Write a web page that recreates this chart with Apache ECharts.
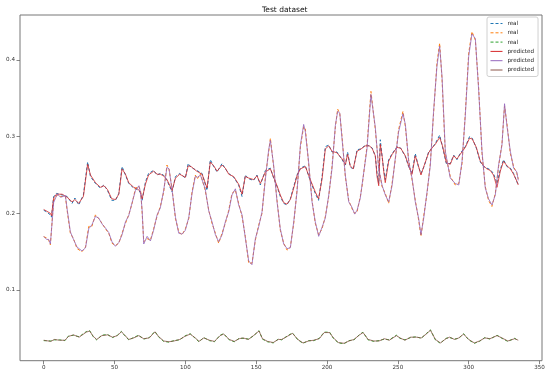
<!DOCTYPE html>
<html>
<head>
<meta charset="utf-8">
<script src="https://cdn.jsdelivr.net/npm/echarts@6/dist/echarts.min.js"></script>
<style>
  html, body { margin: 0; padding: 0; background: #fff; }
  #chart { width: 550px; height: 378px; }
</style>
</head>
<body>
<div id="chart"></div>
<script>
// tick labels
var xTicks = [0, 50, 100, 150, 200, 250, 300, 350];
var yTicks = [0.1, 0.2, 0.3, 0.4];

// upper series (real / predicted)
var xA = [0,2,4.7,5.5,7,9,13,16.5,20,22, 24.7,28,31,33,36.5,40,42.5,45,48,50.7,
  53,55.3,57.7,60,63.5,66,68,69.5,71.8,74, 77.6,80,82.3,84.5,87,90.6,93,96,100,102,
  104,108,111.8,115.3,117.6,120,122.4,125.9,128.2,130.6, 134.1,137.6,140,142.3,144.7,148.2,150.5,152.9,156.5,160,
  162.3,164.7,167,169.4,171.7,174.1,176.5,178.8,181.2,184.7, 188.2,191.7,194,196.5,198.8,201.2,203.5,207,210.6,213,
  214.5,216.4,218.5,221.2,224,227,230,232,234.1,235.3, 236.5,237.6,239,240,241.1,243.5,246,249.4,252,255.3,
  257.6,260,262.3,264.5,266.3,268.5,271.7,274,276.4,279.5, 281.5,284.2,287,289.4,291.7,294,297.6,300.6,302.5,305.4,
  308.2,310.5,312.8,315.2,317.5,320,322.3,324.6,327,329.4, 331.7,334,335];
var realA = [0.204,0.202,0.198,0.195,0.222,0.226,0.224,0.222,0.213,0.220, 0.211,0.224,0.267,0.248,0.239,0.233,0.237,0.230,0.217,0.217,
  0.226,0.261,0.250,0.239,0.233,0.231,0.228,0.217,0.241,0.252, 0.256,0.250,0.252,0.250,0.243,0.228,0.248,0.252,0.246,0.265,
  0.260,0.256,0.252,0.230,0.270,0.261,0.254,0.265,0.258,0.252, 0.247,0.237,0.222,0.250,0.245,0.243,0.250,0.237,0.256,0.259,
  0.246,0.235,0.222,0.213,0.211,0.219,0.235,0.250,0.259,0.262, 0.242,0.226,0.217,0.248,0.287,0.289,0.280,0.280,0.270,0.263,
  0.280,0.261,0.257,0.283,0.284,0.289,0.288,0.285,0.274,0.252, 0.239,0.296,0.272,0.257,0.244,0.270,0.278,0.287,0.285,0.274,
  0.261,0.252,0.278,0.261,0.252,0.261,0.280,0.285,0.291,0.302, 0.287,0.265,0.265,0.276,0.270,0.278,0.287,0.300,0.298,0.285,
  0.267,0.261,0.259,0.257,0.252,0.239,0.257,0.270,0.261,0.259, 0.252,0.241,0.238];
var predA = [0.205,0.203,0.200,0.197,0.220,0.225,0.225,0.221,0.215,0.218, 0.213,0.222,0.264,0.250,0.240,0.234,0.236,0.231,0.219,0.218,
  0.225,0.258,0.251,0.240,0.234,0.232,0.229,0.219,0.238,0.250, 0.255,0.251,0.251,0.249,0.244,0.230,0.246,0.251,0.247,0.262,
  0.261,0.255,0.251,0.233,0.267,0.262,0.255,0.263,0.259,0.251, 0.248,0.238,0.225,0.248,0.246,0.244,0.249,0.239,0.254,0.258,
  0.247,0.236,0.224,0.214,0.212,0.218,0.233,0.249,0.258,0.261, 0.244,0.228,0.219,0.245,0.284,0.288,0.281,0.279,0.271,0.264,
  0.277,0.262,0.258,0.281,0.284,0.288,0.288,0.284,0.275,0.248, 0.236,0.290,0.273,0.255,0.240,0.268,0.277,0.286,0.285,0.275,
  0.262,0.251,0.275,0.262,0.250,0.262,0.279,0.285,0.290,0.299, 0.288,0.266,0.264,0.275,0.271,0.277,0.286,0.298,0.297,0.286,
  0.268,0.262,0.258,0.256,0.250,0.234,0.255,0.268,0.262,0.258, 0.251,0.242,0.237];

// middle series (real / predicted)
var xB = [0,2,3.5,4.7,7,9.5,12,15.3,16.5,18.8, 21,23.5,27,29.5,31.8,34,36.5,38.8,41.2,43.5,
  45.9,48.2,50.6,53,55.3,57.7,60,62.4,64.8,67.2, 68.5,69.5,70.6,73,75.3,77.6,80,82.3,84.7,87,
  88.5,90.6,93,95.3,97.7,100,102.4,104.7,107,108.5, 110.6,114,116.5,118.8,121.2,123.5,125.9,128.2,130.6,132.9,
  135.3,137.6,140,142.3,144.7,147,149.4,151.8,154.1,156.5, 158.8,160,162.3,164.7,167,169.4,171.8,174.1,176.5,178.8,
  181.2,183.5,184.7,187,189.4,191.7,194.1,196.5,198.8,201.2, 203.5,205.9,207.5,209,210.6,212.9,215.3,217.6,219.5,221.2,
  223.5,224.7,228.2,231,234.1,236.4,238.8,241.1,243.5,245.9, 248.2,250.5,253.6,255.3,257.6,260,262.3,264.7,266.3,268.2,
  270.6,272.9,275.2,277.6,279.5,281.2,283.5,287,290.5,293, 295.3,297.6,300,302.3,304.7,307,309.4,311.7,314,316.4,
  318.8,321.1,323.5,325.3,327,329.4,331.7,334,335];
var realB = [0.1695,0.168,0.165,0.159,0.217,0.224,0.222,0.222,0.204,0.174, 0.167,0.154,0.150,0.156,0.183,0.183,0.198,0.193,0.187,0.180,
  0.174,0.161,0.158,0.161,0.174,0.187,0.198,0.213,0.233,0.235, 0.228,0.200,0.163,0.167,0.165,0.180,0.196,0.209,0.228,0.263,
  0.257,0.232,0.193,0.176,0.172,0.180,0.193,0.228,0.250,0.245, 0.252,0.230,0.204,0.187,0.174,0.161,0.174,0.187,0.204,0.226,
  0.230,0.213,0.196,0.170,0.135,0.135,0.165,0.185,0.200,0.248, 0.280,0.298,0.261,0.217,0.178,0.161,0.152,0.156,0.187,0.230,
  0.287,0.313,0.310,0.265,0.217,0.187,0.172,0.180,0.196,0.222, 0.261,0.313,0.336,0.330,0.300,0.248,0.217,0.206,0.200,0.202,
  0.222,0.235,0.287,0.359,0.309,0.261,0.235,0.226,0.213,0.239, 0.270,0.309,0.333,0.313,0.270,0.244,0.217,0.191,0.170,0.196,
  0.226,0.265,0.330,0.396,0.422,0.374,0.278,0.248,0.237,0.239, 0.265,0.330,0.409,0.437,0.426,0.365,0.278,0.235,0.217,0.209,
  0.226,0.261,0.291,0.340,0.317,0.278,0.261,0.252,0.245];
var predB = [0.170,0.166,0.166,0.160,0.214,0.225,0.221,0.223,0.206,0.176, 0.166,0.156,0.151,0.155,0.180,0.185,0.196,0.194,0.186,0.181,
  0.175,0.163,0.157,0.162,0.172,0.189,0.197,0.214,0.230,0.236, 0.226,0.203,0.160,0.170,0.164,0.178,0.198,0.207,0.230,0.260,
  0.258,0.230,0.195,0.174,0.173,0.178,0.195,0.226,0.248,0.247, 0.250,0.232,0.203,0.189,0.172,0.163,0.172,0.189,0.202,0.224,
  0.232,0.211,0.198,0.168,0.138,0.133,0.167,0.183,0.202,0.245, 0.283,0.295,0.263,0.215,0.180,0.160,0.154,0.155,0.189,0.228,
  0.289,0.316,0.306,0.267,0.215,0.189,0.170,0.182,0.194,0.224, 0.258,0.315,0.333,0.331,0.297,0.250,0.215,0.208,0.199,0.204,
  0.220,0.237,0.284,0.355,0.312,0.259,0.237,0.224,0.215,0.236, 0.272,0.306,0.330,0.316,0.268,0.246,0.215,0.193,0.172,0.193,
  0.228,0.262,0.333,0.392,0.418,0.378,0.281,0.246,0.239,0.237, 0.268,0.327,0.405,0.434,0.428,0.362,0.281,0.233,0.219,0.211,
  0.224,0.263,0.289,0.343,0.314,0.281,0.259,0.254,0.243];

// lower series (real / predicted)
var xC = [0,5,7.5,11,15,17.5,21,25,30,32.4, 35,37.4,41,45,48.6,52,54.8,57,60,63.5,
  67,70.6,74.5,78.5,81,84.7,88.4,92,96,99.6, 103.4,107,109.6,113,117,120.5,124.5,127,131,134.5,
  138,140.7,144.5,148,152,154.4,158,162,165.6,168, 171.9,175.6,179.4,183,187,190.6,194.5,198,201.8,204.5,
  208,212,215.5,219,223,225.4,229,233,236.7,240.5, 244,249,251.5,255,259,263,266.5,270,273,276.5,
  280,284,286.5,290,293,296.4,300,304,307.6,311.4, 315,320,323.5,327.6,332.5,335];
var realC = [0.034,0.0335,0.035,0.035,0.034,0.040,0.041,0.039,0.0457,0.047, 0.039,0.035,0.041,0.042,0.038,0.041,0.046,0.041,0.035,0.038,
  0.041,0.036,0.038,0.046,0.039,0.033,0.032,0.034,0.035,0.040, 0.043,0.037,0.0325,0.038,0.034,0.0325,0.041,0.043,0.035,0.0325,
  0.037,0.037,0.036,0.040,0.047,0.036,0.0325,0.031,0.036,0.035, 0.040,0.044,0.035,0.0305,0.034,0.034,0.037,0.045,0.045,0.037,
  0.031,0.030,0.034,0.035,0.042,0.045,0.035,0.033,0.034,0.036, 0.035,0.041,0.037,0.035,0.038,0.039,0.037,0.043,0.048,0.035,
  0.0305,0.037,0.038,0.036,0.037,0.043,0.035,0.0305,0.033,0.038, 0.036,0.041,0.037,0.033,0.037,0.034];
var predC = [0.0345,0.033,0.0355,0.0345,0.0345,0.0395,0.0415,0.0385,0.045,0.0465, 0.0395,0.0355,0.0405,0.0415,0.0385,0.0405,0.0455,0.0415,0.0355,0.0375,
  0.0405,0.0365,0.0375,0.0455,0.0395,0.0335,0.0325,0.0335,0.0355,0.0395, 0.0425,0.0375,0.033,0.0375,0.0345,0.033,0.0405,0.0425,0.0355,0.033,
  0.0365,0.0375,0.0355,0.0405,0.0465,0.0365,0.033,0.0315,0.0355,0.0355, 0.0395,0.0435,0.0355,0.031,0.0335,0.0345,0.0365,0.0445,0.0445,0.0375,
  0.0315,0.0305,0.0335,0.0355,0.0415,0.0445,0.0355,0.0335,0.0335,0.0365, 0.0345,0.0405,0.0375,0.0345,0.0385,0.0385,0.0375,0.0425,0.0475,0.0355,
  0.031,0.0365,0.0385,0.0355,0.0375,0.0425,0.0355,0.031,0.0335,0.0375, 0.0365,0.0405,0.0375,0.0335,0.0365,0.0345];

var names = ['real', 'real ', 'real  ', 'predicted', 'predicted ', 'predicted  '];
var colors = ['#1f77b4', '#ff7f0e', '#2ca02c', '#d62728', '#9467bd', '#8c564b'];

function pairs(xs, ys){
  var out = [];
  var n = Math.min(xs.length, ys.length);
  for (var i = 0; i < n; i++) out.push([xs[i], ys[i]]);
  return out;
}

function lineSeries(i, xs, ys){
  var dashed = i < 3;
  return {
    name: names[i],
    type: 'line',
    symbol: 'none',
    showSymbol: false,
    data: pairs(xs, ys),
    lineStyle: { color: colors[i], width: 1, type: dashed ? [3, 2] : 'solid', opacity: dashed ? 1 : 0.8 },
    itemStyle: { color: colors[i] },
    emphasis: { disabled: true }
  };
}

// legend entries: plain line samples, no symbol
var legendData = names.map(function(n, i){
  return {
    name: n,
    itemStyle: { color: 'rgba(0,0,0,0)', borderWidth: 0, opacity: 0 },
    lineStyle: { color: colors[i], width: 1, opacity: 1, type: i < 3 ? [3, 2] : 'solid' }
  };
});

var chart = echarts.init(document.getElementById('chart'));
var tickStyle = { show: true, inside: false, length: 3.5, lineStyle: { color: '#666', width: 0.8 } };
var option = {
  animation: false,
  backgroundColor: '#fff',
  title: {
    text: 'Test dataset',
    left: 257, top: 1,
    textStyle: { fontFamily: 'DejaVu Sans', fontSize: 7.5, fontWeight: 'normal', color: '#111' }
  },
  legend: {
    orient: 'vertical',
    left: 487, top: 17,
    padding: [3, 4, 3, 3],
    itemWidth: 12, itemHeight: 7, itemGap: 2.3,
    backgroundColor: '#fff',
    borderColor: '#d0d0d0', borderWidth: 1, borderRadius: 2,
    textStyle: { fontFamily: 'DejaVu Sans', fontSize: 5.6, lineHeight: 7, color: '#222' },
    formatter: function(n){ return n.trim(); },
    data: legendData
  },
  grid: {
    left: 20, right: 8, top: 15, bottom: 17.3,
    show: true, borderColor: '#777', borderWidth: 1
  },
  xAxis: {
    type: 'value', min: -16.75, max: 351.75,
    axisLine: { show: false, onZero: false },
    axisTick: Object.assign({ customValues: xTicks }, tickStyle),
    axisLabel: { customValues: xTicks, margin: 4, fontFamily: 'DejaVu Sans', fontSize: 5.6, color: '#333' },
    splitLine: { show: false }
  },
  yAxis: {
    type: 'value', min: 0.0078, max: 0.4587,
    axisLine: { show: false, onZero: false },
    axisTick: Object.assign({ customValues: yTicks }, tickStyle),
    axisLabel: {
      customValues: yTicks, margin: 5, fontFamily: 'DejaVu Sans', fontSize: 5.6, color: '#333',
      formatter: function(v){ return v.toFixed(1); }
    },
    splitLine: { show: false }
  },
  series: [
    lineSeries(0, xA, realA),
    lineSeries(1, xB, realB),
    lineSeries(2, xC, realC),
    lineSeries(3, xA, predA),
    lineSeries(4, xB, predB),
    lineSeries(5, xC, predC)
  ]
};
chart.setOption(option);
</script>
</body>
</html>
